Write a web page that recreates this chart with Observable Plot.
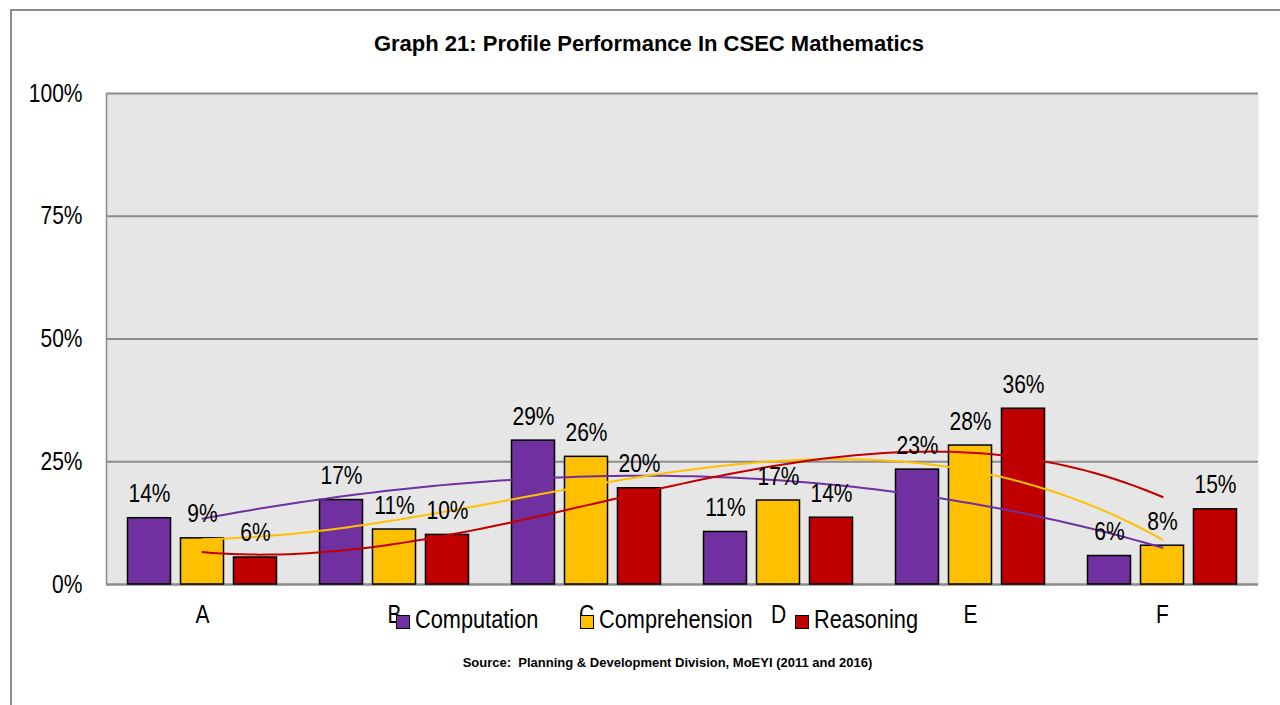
<!DOCTYPE html>
<html>
<head>
<meta charset="utf-8">
<script src="https://cdn.jsdelivr.net/npm/d3@7"></script>
<script src="https://cdn.jsdelivr.net/npm/@observablehq/plot@0.6"></script>
<style>
  html, body { margin: 0; padding: 0; background: #fff; }
  body { width: 1280px; height: 705px; position: relative; overflow: hidden;
         font-family: "Liberation Sans", Arial, sans-serif; }
  #frame { position: absolute; left: 10px; top: 9px; width: 1290px; height: 720px;
           border-top: 2px solid #8c8c8c; border-left: 2px solid #8c8c8c; }
  #chart { position: absolute; left: 0; top: 0; }
  #title { position: absolute; left: 0; width: 1298px; top: 31px; text-align: center;
           font-weight: bold; font-size: 22px; color: #000; }
  .leg { position: absolute; top: 604px; font-size: 25px; color: #000; white-space: nowrap; line-height: 30px; }
  .leg .txt { display: inline-block; transform: scaleX(0.87); transform-origin: 0 50%; }
  .sw { display: inline-block; width: 12px; height: 12px; border: 1.5px solid #000; vertical-align: -1px; margin-right: 5px; }
  #source { position: absolute; left: 0; width: 1335px; top: 655px; text-align: center;
            font-weight: bold; font-size: 13px; color: #000; }
</style>
</head>
<body>
<div id="frame"></div>
<div id="chart"></div>
<div id="title">Graph 21: Profile Performance In CSEC Mathematics</div>
<div id="legend"></div>
<div id="source">Source:&nbsp; Planning &amp; Development Division, MoEYI (2011 and 2016)</div>
<script>
const categories = ["A", "B", "C", "D", "E", "F"];
const seriesNames = ["Computation", "Comprehension", "Reasoning"];
const computation   = [13.5, 17.2, 29.3, 10.7, 23.4, 5.8];
const comprehension = [9.4, 11.2, 26.0, 17.1, 28.3, 7.9];
const reasoning     = [5.5, 10.1, 19.6, 13.6, 35.8, 15.3];
const yTicks = [0, 0.25, 0.5, 0.75, 1];
const colors = ["#7030a0", "#ffc000", "#c00000"];

const seriesValues = [computation, comprehension, reasoning];
const offsets = [-0.276, 0, 0.276];
const barHalf = 0.112;

const rows = [];
seriesValues.forEach((vals, s) => vals.forEach((v, i) => rows.push({
  s: seriesNames[s], si: s, i: i + 1, v: v / 100, label: Math.round(v) + "%"
})));

// Polynomial (order 3) least-squares trendlines, as in the spreadsheet
function polyFit(xs, ys, order) {
  const n = order + 1;
  const A = Array.from({length: n}, () => new Array(n + 1).fill(0));
  xs.forEach((x, k) => {
    for (let r = 0; r < n; r++) {
      for (let c = 0; c < n; c++) A[r][c] += Math.pow(x, r + c);
      A[r][n] += ys[k] * Math.pow(x, r);
    }
  });
  for (let p = 0; p < n; p++) {
    let m = p;
    for (let r = p + 1; r < n; r++) if (Math.abs(A[r][p]) > Math.abs(A[m][p])) m = r;
    [A[p], A[m]] = [A[m], A[p]];
    for (let r = 0; r < n; r++) {
      if (r === p) continue;
      const f = A[r][p] / A[p][p];
      for (let c = p; c <= n; c++) A[r][c] -= f * A[p][c];
    }
  }
  return A.map((row, r) => row[n] / row[r]);
}
const trend = [];
seriesValues.forEach((vals, s) => {
  const xs = vals.map((_, i) => i + 1 - 3.5);
  const coef = polyFit(xs, vals, 3);
  for (let t = 1; t <= 6.0001; t += 0.05) {
    const u = t - 3.5;
    const y = coef.reduce((acc, c, k) => acc + c * Math.pow(u, k), 0);
    trend.push({s: seriesNames[s], x: t, y: y / 100});
  }
});

const fontFam = '"Liberation Sans", Arial, sans-serif';
const chart = Plot.plot({
  width: 1280,
  height: 640,
  marginLeft: 106,
  marginRight: 22,
  marginTop: 93,
  marginBottom: 56,
  style: {fontFamily: fontFam, background: "transparent", overflow: "visible"},
  x: {type: "linear", domain: [0.5, 6.5]},
  y: {domain: [0, 1]},
  color: {domain: seriesNames, range: colors},
  marks: [
    Plot.frame({fill: "#e6e6e6", stroke: null}),
    Plot.ruleY(yTicks.slice(1), {stroke: "#8c8c8c", strokeWidth: 2}),
    Plot.ruleY([0], {stroke: "#8c8c8c", strokeWidth: 2.5}),
    Plot.ruleX([0.5], {stroke: "#8c8c8c", strokeWidth: 1.5}),
    Plot.axisY(yTicks, {tickSize: 0, tickPadding: 24, fontSize: 25, fill: "#000",
      tickFormat: d3.format(".0%"), label: null}),
    Plot.axisX(categories.map((_, i) => i + 1), {tickSize: 0, tickPadding: 21, fontSize: 25, fill: "#000",
      tickFormat: d => categories[d - 1], label: null}),
    Plot.rectY(rows, {
      x1: d => d.i + offsets[d.si] - barHalf,
      x2: d => d.i + offsets[d.si] + barHalf,
      y1: 0, y2: "v", fill: "s", stroke: "#000", strokeWidth: 1.5
    }),
    Plot.line(trend, {x: "x", y: "y", z: "s", stroke: "s", strokeWidth: 2}),
    Plot.text(rows, {
      x: d => d.i + offsets[d.si], y: "v", text: "label",
      dy: -16, lineAnchor: "bottom", fontSize: 25, fill: "#000"
    })
  ]
});
document.getElementById("chart").appendChild(chart);

// narrow the glyphs (the reference uses a condensed face)
chart.querySelectorAll("text").forEach(t => {
  const L = t.getComputedTextLength();
  if (L > 0) {
    t.setAttribute("textLength", (L * 0.84).toFixed(1));
    t.setAttribute("lengthAdjust", "spacingAndGlyphs");
  }
});

const legendPos = [396, 580, 795];
const legend = document.getElementById("legend");
seriesNames.forEach((name, k) => {
  const d = document.createElement("div");
  d.className = "leg";
  d.style.left = legendPos[k] + "px";
  d.innerHTML = `<span class="sw" style="background:${colors[k]}"></span><span class="txt">${name}</span>`;
  legend.appendChild(d);
});
</script>
</body>
</html>
